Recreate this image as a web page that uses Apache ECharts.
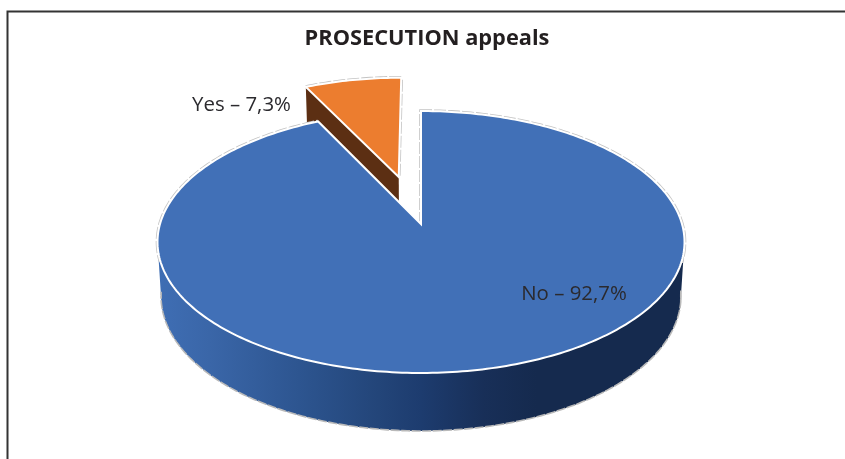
<!DOCTYPE html>
<html><head><meta charset="utf-8">
<style>html,body{margin:0;padding:0;background:#fff}#c{width:845px;height:459px}</style>
<script src="https://cdn.jsdelivr.net/npm/echarts@6/dist/echarts.min.js"></script>
</head><body><div id="c"></div>
<script>
const titleText = 'PROSECUTION appeals';
const categories = ['No', 'Yes'];
const shares = [92.7, 7.3];
const explode = [0, 0.395];
const radiusScale = [1, 0.965];
const topColors = ['#4170b7', '#ec7d2f'];
const sideColors = [null, '#5c2f13'];
const labelCenters = [[574, 294], [241.5, 105]];

const labelOf = i => categories[i] + ' \u2013 ' + String(shares[i]).replace('.', ',') + '%';

/* Perspective projection of the unit disc on to the screen */
const P = {cx: 421, cy: 224, A: 261, B: 128.5, k: 0.1374};
const topCy = 242, botCy = 296, topRx = 263.5, botRx = 260, topRy = 131, botRy = 135;
function project(X, Y) {
  const d = 1 + P.k * Y;
  return [P.cx + P.A * X / d, P.cy - P.B * Y / d];
}
function lower(p) {
  return [P.cx + (p[0] - P.cx) * botRx / topRx, botCy + (p[1] - topCy) * botRy / topRy];
}
const total = shares.reduce((a, b) => a + b, 0);
function sliceGeom(i) {
  let before = 0;
  for (let j = 0; j < i; j++) before += shares[j];
  const a0 = before / total * 2 * Math.PI, a1 = (before + shares[i]) / total * 2 * Math.PI;
  const mid = (a0 + a1) / 2, e = explode[i], r = radiusScale[i];
  const ox = e * Math.sin(mid), oy = e * Math.cos(mid);
  const arc = [], n = Math.max(8, Math.round((a1 - a0) * 60));
  for (let s = 0; s <= n; s++) {
    const a = a0 + (a1 - a0) * s / n;
    arc.push(project(ox + r * Math.sin(a), oy + r * Math.cos(a)));
  }
  return {apex: project(ox, oy), arc};
}
const sideGradient = new echarts.graphic.LinearGradient(157, 0, 684, 0, [
  {offset: 0, color: '#3f6eb4'},
  {offset: 0.1, color: '#3a66a8'},
  {offset: 0.27, color: '#2d5590'},
  {offset: 0.42, color: '#234579'},
  {offset: 0.5, color: '#1d3c6f'},
  {offset: 0.62, color: '#182f58'},
  {offset: 0.72, color: '#152a4e'},
  {offset: 1, color: '#152a4e'}
], true);

function renderItem(params, api) {
  const i = params.dataIndex;
  const g = sliceGeom(i), children = [];
  if (i === 0) {
    const front = g.arc.filter(p => p[1] > 236).sort((a, b) => a[0] - b[0]);
    const lowerPts = front.map(lower).reverse();
    children.push({type: 'polygon', shape: {points: front.concat(lowerPts)},
      style: {fill: sideGradient, stroke: null}});
    children.push({type: 'polyline', shape: {points: lowerPts},
      style: {fill: null, stroke: '#b9b9b9', lineWidth: 1.6, lineDash: [9, 1.5]}});
    /* grey rim: the back of the disc plus the vertical cut up from the apex */
    const back = g.arc.filter(p => p[1] <= 262);
    children.push({type: 'polyline', shape: {points: [g.apex].concat(back)},
      style: {fill: null, stroke: '#c4c4c4', lineWidth: 3.6, lineDash: [12, 2]}});
  } else {
    const tip = g.arc[0][0] < g.arc[g.arc.length - 1][0] ? g.arc[0] : g.arc[g.arc.length - 1];
    children.push({type: 'polygon', shape: {points: [tip, g.apex, lower(g.apex), lower(tip)]},
      style: {fill: sideColors[i], stroke: null}});
    children.push({type: 'polyline', shape: {points: g.arc.concat([g.apex])},
      style: {fill: null, stroke: '#c4c4c4', lineWidth: 3.6, lineDash: [12, 2]}});
  }
  children.push({type: 'polygon', shape: {points: [g.apex].concat(g.arc)},
    style: {fill: topColors[i], stroke: '#ffffff', lineWidth: 2, lineJoin: 'miter'}});
  return {type: 'group', children};
}

const fontFamily = '"Open Sans","Noto Sans",sans-serif';
const chart = echarts.init(document.getElementById('c'), null, {renderer: 'canvas'});
chart.setOption({
  animation: false,
  backgroundColor: '#ffffff',
  title: {text: titleText, left: 422, top: 23, textAlign: 'center',
    textStyle: {fontFamily, fontSize: 21.8, fontWeight: 700, color: '#231f20'}},
  graphic: [
    {type: 'polyline', silent: true, z: 0, shape: {points: [[7.5, 459], [7.5, 11.5], [845, 11.5]]},
      style: {fill: null, stroke: '#333333', lineWidth: 2}}
  ],
  series: [
    {type: 'custom', coordinateSystem: 'none', silent: true, z: 2,
      data: [1, 0].map(i => ({name: categories[i], value: shares[i], idx: i})),
      renderItem: (p, api) => renderItem({dataIndex: [1, 0][p.dataIndex]}, api)},
    {type: 'custom', coordinateSystem: 'none', silent: true, z: 5,
      data: categories.map((c, i) => ({name: c, value: shares[i]})),
      renderItem: p => ({type: 'text', style: {
        x: labelCenters[p.dataIndex][0], y: labelCenters[p.dataIndex][1],
        text: labelOf(p.dataIndex), align: 'center', verticalAlign: 'middle',
        fontFamily, fontSize: 20.4, fill: '#2b2a2e'}})}
  ]
});
</script></body></html>
